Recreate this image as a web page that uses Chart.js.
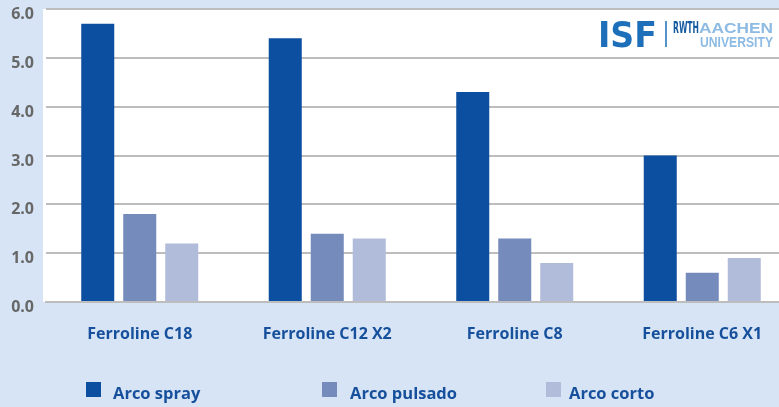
<!DOCTYPE html>
<html lang="es">
<head>
<meta charset="UTF-8" />
<title>Ferroline</title>
<script src="https://cdn.jsdelivr.net/npm/chart.js@4.4.1/dist/chart.umd.min.js"></script>
<style>
  html, body { margin: 0; padding: 0; overflow: hidden; background: #d6e4f5; }
  #wrap { position: relative; width: 800px; height: 407px; }
</style>
</head>
<body>
<div id="wrap"><canvas id="chart"></canvas></div>
<script>
// data
const categories = ['Ferroline C18', 'Ferroline C12 X2', 'Ferroline C8', 'Ferroline C6 X1'];
const seriesNames = ['Arco spray', 'Arco pulsado', 'Arco corto'];
const arcoSpray = [5.7, 5.4, 4.3, 3.0];
const arcoPulsado = [1.8, 1.4, 1.3, 0.6];
const arcoCorto = [1.2, 1.3, 0.8, 0.9];
const yTicks = [0, 1, 2, 3, 4, 5, 6];

const colors = ['#0c4ea0', '#758bbb', '#b0bcda'];
const textBlue = '#16509c';
const FONT = '"Open Sans", Lato, sans-serif';

const bgPlugin = {
  id: 'bg',
  beforeDraw(chart) {
    const { ctx, chartArea: a } = chart;
    ctx.save();
    ctx.fillStyle = '#d6e4f5';
    ctx.fillRect(0, 0, chart.width, chart.height);
    ctx.fillStyle = '#ffffff';
    ctx.fillRect(a.left - 3, a.top, a.right - a.left + 3, a.bottom - a.top);
    ctx.restore();
  }
};

// squeeze text into a box (logo lettering is condensed)
function fitText(ctx, txt, x, y, w, font, color) {
  ctx.font = font;
  const m = ctx.measureText(txt).width;
  ctx.save();
  ctx.translate(x, y);
  ctx.scale(w / m, 1);
  ctx.fillStyle = color;
  ctx.textBaseline = 'alphabetic';
  ctx.fillText(txt, 0, 0);
  ctx.restore();
}

const extrasPlugin = {
  id: 'extras',
  afterDraw(chart) {
    const ctx = chart.ctx;
    // logo
    fitText(ctx, 'ISF', 598, 47, 59, 'bold 36px "DejaVu Sans", sans-serif', '#1d6fba');
    ctx.save();
    ctx.strokeStyle = '#1d6fba';
    ctx.lineWidth = 1.5;
    ctx.beginPath();
    ctx.moveTo(666, 21);
    ctx.lineTo(666, 47);
    ctx.stroke();
    ctx.restore();
    fitText(ctx, 'RWTH', 673, 33, 26, 'bold 16px "DejaVu Sans", sans-serif', '#155aa0');
    fitText(ctx, 'AACHEN', 699, 33, 74, 'bold 15px "Liberation Sans", sans-serif', '#8dbbe3');
    fitText(ctx, 'UNIVERSITY', 700, 47, 73, 'bold 15px "Liberation Sans", sans-serif', '#8dbbe3');

    // legend
    const boxX = [86, 322, 546];
    const textX = [113, 350, 569];
    chart.data.datasets.forEach((ds, i) => {
      ctx.save();
      ctx.fillStyle = ds.backgroundColor;
      ctx.fillRect(boxX[i], 382, 15, 15);
      ctx.fillStyle = textBlue;
      ctx.font = 'bold 16.5px ' + FONT;
      ctx.textBaseline = 'alphabetic';
      ctx.fillText(ds.label, textX[i], 399);
      ctx.restore();
    });
  }
};

new Chart(document.getElementById('chart'), {
  type: 'bar',
  data: {
    labels: categories,
    datasets: [
      { label: seriesNames[0], data: arcoSpray, backgroundColor: colors[0] },
      { label: seriesNames[1], data: arcoPulsado, backgroundColor: colors[1] },
      { label: seriesNames[2], data: arcoCorto, backgroundColor: colors[2] }
    ]
  },
  options: {
    responsive: true,
    maintainAspectRatio: false,
    animation: false,
    layout: { padding: { top: 9, right: 4, left: 0, bottom: 0 } },
    datasets: { bar: { categoryPercentage: 0.672, barPercentage: 0.786 } },
    plugins: { legend: { display: false }, tooltip: { enabled: false } },
    scales: {
      x: {
        grid: { display: false, drawTicks: false },
        border: { color: '#bdbdbd', width: 2 },
        ticks: { color: textBlue, padding: 23, font: { family: FONT, size: 16, weight: 'bold' } },
        afterFit(s) { s.height = 105; s.paddingLeft = 0; s.paddingRight = 0; }
      },
      y: {
        min: 0,
        max: 6,
        afterBuildTicks(s) { s.ticks = yTicks.map(v => ({ value: v })); },
        grid: { color: '#bdbdbd', lineWidth: 2, drawTicks: false },
        border: { display: false },
        ticks: {
          color: '#676767',
          padding: 12,
          labelOffset: 5.5,
          font: { family: FONT, size: 16, weight: 'bold' },
          callback: v => v.toFixed(1)
        },
        afterFit(s) { s.width = 46; s.paddingTop = 0; s.paddingBottom = 0; }
      }
    }
  },
  plugins: [bgPlugin, extrasPlugin]
});
</script>
</body>
</html>
